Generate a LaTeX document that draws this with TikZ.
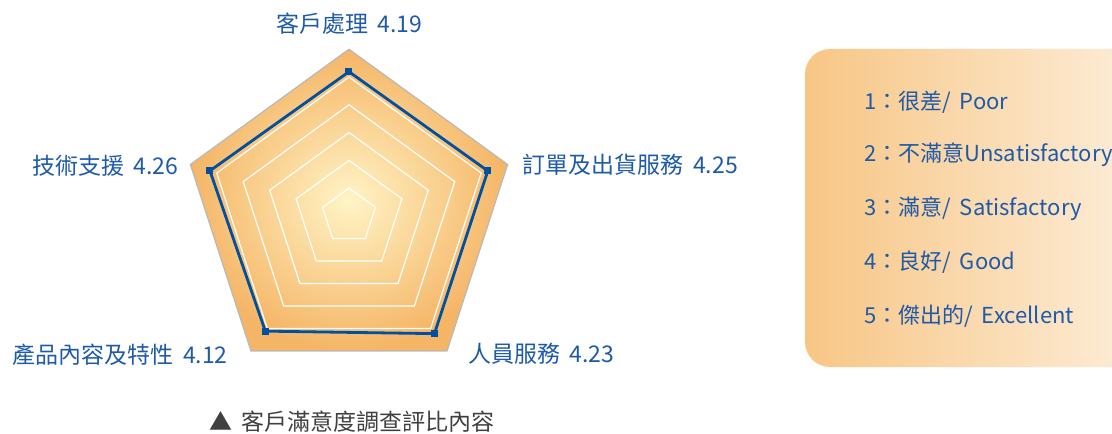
\documentclass[tikz,border=0pt]{standalone}
\usepackage{fontspec}
\setmainfont[WordSpace=1.8]{Noto Sans CJK TC}
\usetikzlibrary{positioning}
\definecolor{labelblue}{HTML}{1E5AA8}
\definecolor{lineblue}{HTML}{0050A2}
\definecolor{ringin}{HTML}{FFF4C6}
\definecolor{ringout}{HTML}{F5B566}
\definecolor{keyleft}{HTML}{F7C685}
\definecolor{keyright}{HTML}{FDEDD8}
\definecolor{captiongray}{HTML}{404040}
\tikzset{
  axislabel/.style={text=labelblue, inner sep=0pt, font=\fontsize{23}{23}\selectfont},
  keytext/.style={axislabel, anchor=west, font=\fontsize{22}{22}\selectfont},
  ring/.style={white, line width=1.2pt},
  datapoint/.style={rectangle, fill=lineblue, minimum size=7pt, inner sep=0pt},
}
\begin{document}
\begin{tikzpicture}[x=1pt,y=1pt]
      \useasboundingbox (-349,-218) rectangle (763,216);
      % outer pentagon, level 6
      \draw[draw=gray!55, line width=1.2pt, inner color=ringin, outer color=ringout]
        (90:166.8) coordinate (kehu)
        -- (18:166.8) coordinate (dingdan)
        -- (306:166.8) coordinate (renyuan)
        -- (234:166.8) coordinate (chanpin)
        -- (162:166.8) coordinate (jishu) -- cycle;
      \foreach \k in {1,...,5}
        \draw[ring] (90:{\k*27.8}) -- (18:{\k*27.8}) -- (306:{\k*27.8})
          -- (234:{\k*27.8}) -- (162:{\k*27.8}) -- cycle;
      % scores
      \draw[lineblue, line width=2.8pt]
        (90:{27.8*5.19}) coordinate (p1)
        -- (18:{27.8*5.25}) coordinate (p2)
        -- (306:{27.8*5.23}) coordinate (p3)
        -- (234:{27.8*5.12}) coordinate (p4)
        -- (162:{27.8*5.26}) coordinate (p5) -- cycle;
      \foreach \i in {1,...,5}
        \node[datapoint] at (p\i) {};
      % axis labels
      \node[axislabel, above=15pt of kehu] {客戶處理 4.19};
      \node[axislabel, right=15pt of dingdan] {訂單及出貨服務 4.25};
      \node[axislabel, right=21pt of renyuan, yshift=-3pt] {人員服務 4.23};
      \node[axislabel, left=23pt of chanpin, yshift=-4pt] {產品內容及特性 4.12};
      \node[axislabel, left=12pt of jishu, yshift=-1.5pt] {技術支援 4.26};
      % legend
      \path[left color=keyleft, right color=keyright, rounded corners=25pt]
        (456,-151) rectangle (790,167);
      \node[keytext] (key1) at (515,114) {1：很差/ Poor};
      \node[keytext] (key2) at (515,61) {2：不滿意Unsatisfactory};
      \node[keytext] (key3) at (515,7) {3：滿意/ Satisfactory};
      \node[keytext] (key4) at (515,-46) {4：良好/ Good};
      \node[keytext] (key5) at (515,-100) {5：傑出的/ Excellent};
      % caption
      \node[axislabel, text=captiongray] (caption) at (3,-206) {▲ 客戶滿意度調查評比內容};
    \end{tikzpicture}
\end{document}
